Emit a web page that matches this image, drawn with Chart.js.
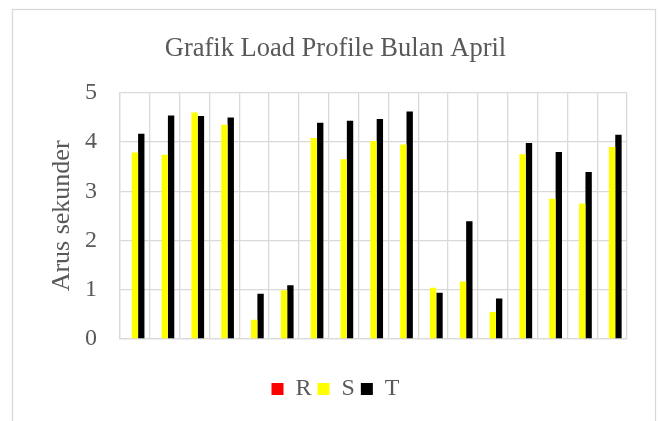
<!DOCTYPE html>
<html>
<head>
<meta charset="utf-8">
<script src="https://cdn.jsdelivr.net/npm/chart.js@4"></script>
<style>
html,body{margin:0;padding:0;background:#fff;overflow:hidden;}
#wrap{position:relative;width:659px;height:421px;}
</style>
</head>
<body>
<div id="wrap"><canvas id="c" width="659" height="421"></canvas></div>
<script>
const categories = ["1","2","3","4","5","6","7","8","9","10","11","12","13","14","15","16","17"];
const seriesR = [0,0,0,0,0,0,0,0,0,0,0,0,0,0,0,0,0];
const seriesS = [3.79,3.74,4.60,4.35,0.39,0.99,4.08,3.65,4.02,3.95,1.04,1.17,0.55,3.75,2.85,2.75,3.90];
const seriesT = [4.17,4.54,4.53,4.50,0.92,1.09,4.39,4.43,4.47,4.62,0.94,2.39,0.82,3.98,3.80,3.39,4.15];
const yTicks = [0,1,2,3,4,5];

const FONT = "'Liberation Serif', 'Times New Roman', serif";
const TXT = "#595959";
const GRID = "#d9d9d9";

const framePlugin = {
  id: 'frame',
  beforeDraw(chart) {
    const ctx = chart.ctx;
    ctx.save();
    ctx.fillStyle = '#fff';
    ctx.fillRect(0, 0, chart.width, chart.height);
    ctx.strokeStyle = GRID;
    ctx.lineWidth = 1.3;
    ctx.strokeRect(12.5, 9.5, 643, 440);
    ctx.restore();
  }
};

new Chart(document.getElementById('c'), {
  type: 'bar',
  data: {
    labels: categories,
    datasets: [
      { label: 'R', data: seriesR, backgroundColor: '#FF0000', borderWidth: 0 },
      { label: 'S', data: seriesS, backgroundColor: '#FFFF00', borderWidth: 0 },
      { label: 'T', data: seriesT, backgroundColor: '#000000', borderWidth: 0 }
    ]
  },
  options: {
    responsive: false,
    animation: false,
    devicePixelRatio: 1,
    layout: { padding: { top: 10, left: 44, right: 32, bottom: 10 } },
    datasets: { bar: { categoryPercentage: 0.64, barPercentage: 1.0 } },
    plugins: {
      title: {
        display: true,
        text: 'Grafik Load Profile Bulan April',
        color: TXT,
        font: { family: FONT, size: 26.5, weight: 'normal' },
        padding: { top: 23, bottom: 28 }
      },
      legend: {
        display: true,
        position: 'bottom',
        labels: {
          color: TXT,
          font: { family: FONT, size: 24 },
          boxWidth: 12,
          boxHeight: 12,
          padding: 6
        }
      },
      tooltip: { enabled: false }
    },
    scales: {
      x: {
        afterFit(scale) { scale.height = 32; },
        ticks: { display: false },
        grid: { color: GRID, lineWidth: 1.3, drawTicks: false, offset: true },
        border: { color: GRID, width: 1.3 }
      },
      y: {
        min: 0,
        max: 5,
        afterBuildTicks(scale) { scale.ticks = yTicks.map(v => ({ value: v })); },
        afterFit(scale) { scale.width = 76; },
        ticks: {
          color: TXT,
          font: { family: FONT, size: 24 },
          padding: 23
        },
        grid: { color: GRID, lineWidth: 1.3, drawTicks: false },
        border: { color: GRID, width: 1.3 },
        title: {
          display: true,
          text: 'Arus sekunder',
          color: TXT,
          font: { family: FONT, size: 26 },
          padding: { top: 3, bottom: 0 }
        }
      }
    }
  },
  plugins: [framePlugin]
});
</script>
</body>
</html>
